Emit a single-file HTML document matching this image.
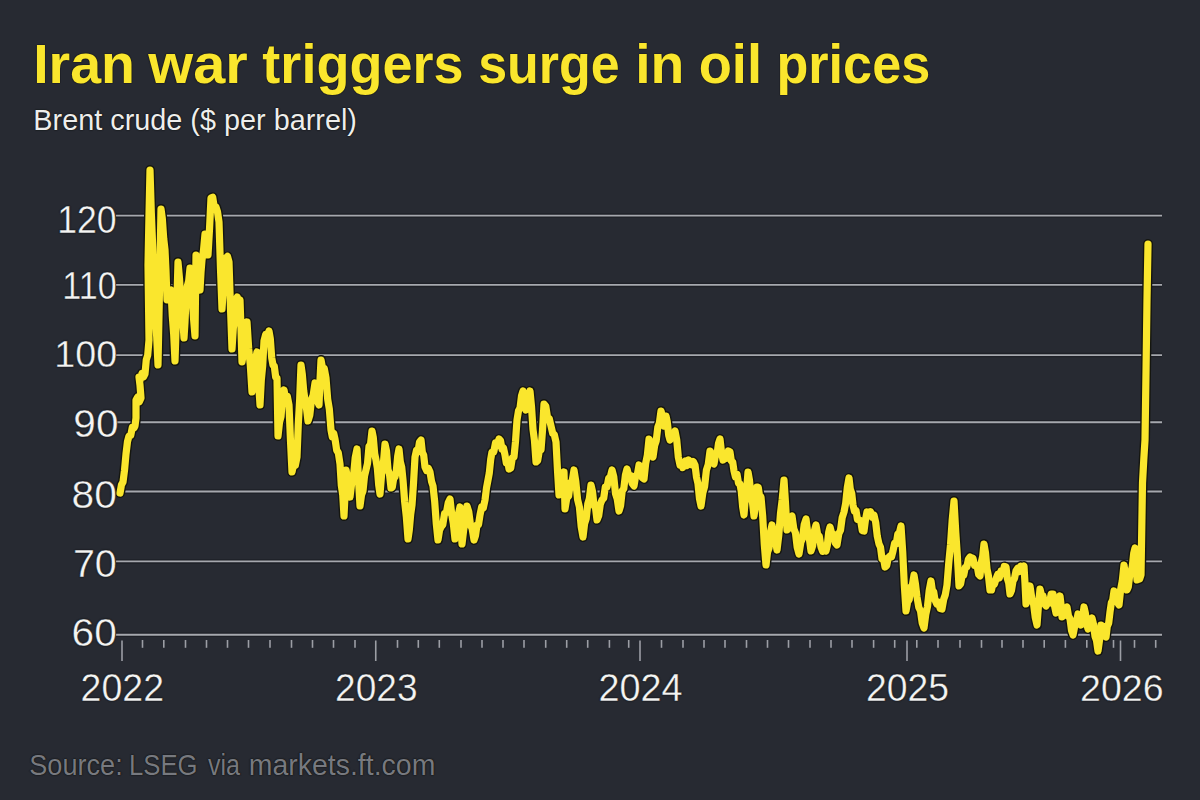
<!DOCTYPE html>
<html><head><meta charset="utf-8"><style>
html,body{margin:0;padding:0;background:#272a32;}
body{width:1200px;height:800px;overflow:hidden;position:relative;font-family:"Liberation Sans",sans-serif;}
.t{position:absolute;white-space:nowrap;line-height:1;}
svg{position:absolute;left:0;top:0;}
</style></head><body>
<svg width="1200" height="800" viewBox="0 0 1200 800">

<line x1="116" y1="215.6" x2="1162" y2="215.6" stroke="#1e2027" stroke-width="4.5"/>
<line x1="116" y1="215.6" x2="1162" y2="215.6" stroke="#a6a8ae" stroke-width="1.9"/>
<line x1="116" y1="284.9" x2="1162" y2="284.9" stroke="#1e2027" stroke-width="4.5"/>
<line x1="116" y1="284.9" x2="1162" y2="284.9" stroke="#a6a8ae" stroke-width="1.9"/>
<line x1="116" y1="355.1" x2="1162" y2="355.1" stroke="#1e2027" stroke-width="4.5"/>
<line x1="116" y1="355.1" x2="1162" y2="355.1" stroke="#a6a8ae" stroke-width="1.9"/>
<line x1="116" y1="422.2" x2="1162" y2="422.2" stroke="#1e2027" stroke-width="4.5"/>
<line x1="116" y1="422.2" x2="1162" y2="422.2" stroke="#a6a8ae" stroke-width="1.9"/>
<line x1="116" y1="491.5" x2="1162" y2="491.5" stroke="#1e2027" stroke-width="4.5"/>
<line x1="116" y1="491.5" x2="1162" y2="491.5" stroke="#a6a8ae" stroke-width="1.9"/>
<line x1="116" y1="561.4" x2="1162" y2="561.4" stroke="#1e2027" stroke-width="4.5"/>
<line x1="116" y1="561.4" x2="1162" y2="561.4" stroke="#a6a8ae" stroke-width="1.9"/>
<line x1="116" y1="634.7" x2="1162" y2="634.7" stroke="#1e2027" stroke-width="4.5"/>
<line x1="116" y1="634.7" x2="1162" y2="634.7" stroke="#a6a8ae" stroke-width="1.9"/>
<line x1="142.5" y1="640" x2="142.5" y2="647.8" stroke="#9c9ea5" stroke-width="1.6"/>
<line x1="163.8" y1="640" x2="163.8" y2="647.8" stroke="#9c9ea5" stroke-width="1.6"/>
<line x1="185.5" y1="640" x2="185.5" y2="647.8" stroke="#9c9ea5" stroke-width="1.6"/>
<line x1="206.5" y1="640" x2="206.5" y2="647.8" stroke="#9c9ea5" stroke-width="1.6"/>
<line x1="227.5" y1="640" x2="227.5" y2="647.8" stroke="#9c9ea5" stroke-width="1.6"/>
<line x1="248.5" y1="640" x2="248.5" y2="647.8" stroke="#9c9ea5" stroke-width="1.6"/>
<line x1="270.0" y1="640" x2="270.0" y2="647.8" stroke="#9c9ea5" stroke-width="1.6"/>
<line x1="291.5" y1="640" x2="291.5" y2="647.8" stroke="#9c9ea5" stroke-width="1.6"/>
<line x1="312.5" y1="640" x2="312.5" y2="647.8" stroke="#9c9ea5" stroke-width="1.6"/>
<line x1="333.5" y1="640" x2="333.5" y2="647.8" stroke="#9c9ea5" stroke-width="1.6"/>
<line x1="355.0" y1="640" x2="355.0" y2="647.8" stroke="#9c9ea5" stroke-width="1.6"/>
<line x1="397.5" y1="640" x2="397.5" y2="647.8" stroke="#9c9ea5" stroke-width="1.6"/>
<line x1="418.3" y1="640" x2="418.3" y2="647.8" stroke="#9c9ea5" stroke-width="1.6"/>
<line x1="439.3" y1="640" x2="439.3" y2="647.8" stroke="#9c9ea5" stroke-width="1.6"/>
<line x1="461.0" y1="640" x2="461.0" y2="647.8" stroke="#9c9ea5" stroke-width="1.6"/>
<line x1="482.0" y1="640" x2="482.0" y2="647.8" stroke="#9c9ea5" stroke-width="1.6"/>
<line x1="503.0" y1="640" x2="503.0" y2="647.8" stroke="#9c9ea5" stroke-width="1.6"/>
<line x1="524.0" y1="640" x2="524.0" y2="647.8" stroke="#9c9ea5" stroke-width="1.6"/>
<line x1="545.7" y1="640" x2="545.7" y2="647.8" stroke="#9c9ea5" stroke-width="1.6"/>
<line x1="566.7" y1="640" x2="566.7" y2="647.8" stroke="#9c9ea5" stroke-width="1.6"/>
<line x1="587.7" y1="640" x2="587.7" y2="647.8" stroke="#9c9ea5" stroke-width="1.6"/>
<line x1="609.4" y1="640" x2="609.4" y2="647.8" stroke="#9c9ea5" stroke-width="1.6"/>
<line x1="628.7" y1="640" x2="628.7" y2="647.8" stroke="#9c9ea5" stroke-width="1.6"/>
<line x1="661.5" y1="640" x2="661.5" y2="647.8" stroke="#9c9ea5" stroke-width="1.6"/>
<line x1="683.0" y1="640" x2="683.0" y2="647.8" stroke="#9c9ea5" stroke-width="1.6"/>
<line x1="704.0" y1="640" x2="704.0" y2="647.8" stroke="#9c9ea5" stroke-width="1.6"/>
<line x1="725.0" y1="640" x2="725.0" y2="647.8" stroke="#9c9ea5" stroke-width="1.6"/>
<line x1="746.5" y1="640" x2="746.5" y2="647.8" stroke="#9c9ea5" stroke-width="1.6"/>
<line x1="767.5" y1="640" x2="767.5" y2="647.8" stroke="#9c9ea5" stroke-width="1.6"/>
<line x1="788.5" y1="640" x2="788.5" y2="647.8" stroke="#9c9ea5" stroke-width="1.6"/>
<line x1="810.0" y1="640" x2="810.0" y2="647.8" stroke="#9c9ea5" stroke-width="1.6"/>
<line x1="831.0" y1="640" x2="831.0" y2="647.8" stroke="#9c9ea5" stroke-width="1.6"/>
<line x1="852.0" y1="640" x2="852.0" y2="647.8" stroke="#9c9ea5" stroke-width="1.6"/>
<line x1="873.6" y1="640" x2="873.6" y2="647.8" stroke="#9c9ea5" stroke-width="1.6"/>
<line x1="894.7" y1="640" x2="894.7" y2="647.8" stroke="#9c9ea5" stroke-width="1.6"/>
<line x1="916.8" y1="640" x2="916.8" y2="647.8" stroke="#9c9ea5" stroke-width="1.6"/>
<line x1="938.0" y1="640" x2="938.0" y2="647.8" stroke="#9c9ea5" stroke-width="1.6"/>
<line x1="960.0" y1="640" x2="960.0" y2="647.8" stroke="#9c9ea5" stroke-width="1.6"/>
<line x1="981.5" y1="640" x2="981.5" y2="647.8" stroke="#9c9ea5" stroke-width="1.6"/>
<line x1="1002.0" y1="640" x2="1002.0" y2="647.8" stroke="#9c9ea5" stroke-width="1.6"/>
<line x1="1023.0" y1="640" x2="1023.0" y2="647.8" stroke="#9c9ea5" stroke-width="1.6"/>
<line x1="1044.2" y1="640" x2="1044.2" y2="647.8" stroke="#9c9ea5" stroke-width="1.6"/>
<line x1="1065.4" y1="640" x2="1065.4" y2="647.8" stroke="#9c9ea5" stroke-width="1.6"/>
<line x1="1086.8" y1="640" x2="1086.8" y2="647.8" stroke="#9c9ea5" stroke-width="1.6"/>
<line x1="1113.5" y1="640" x2="1113.5" y2="647.8" stroke="#9c9ea5" stroke-width="1.6"/>
<line x1="1134.5" y1="640" x2="1134.5" y2="647.8" stroke="#9c9ea5" stroke-width="1.6"/>
<line x1="1155.7" y1="640" x2="1155.7" y2="647.8" stroke="#9c9ea5" stroke-width="1.6"/>
<line x1="122" y1="640.5" x2="122" y2="661" stroke="#9c9ea5" stroke-width="1.6"/>
<line x1="375.75" y1="640.5" x2="375.75" y2="661" stroke="#9c9ea5" stroke-width="1.6"/>
<line x1="640" y1="640.5" x2="640" y2="661" stroke="#9c9ea5" stroke-width="1.6"/>
<line x1="907" y1="640.5" x2="907" y2="661" stroke="#9c9ea5" stroke-width="1.6"/>
<line x1="1120.5" y1="640.5" x2="1120.5" y2="661" stroke="#9c9ea5" stroke-width="1.6"/>
<path d="M120.0 493.0 L121.5 484.7 L123.0 482.0 L124.5 470.4 L126.0 454.0 L127.5 441.5 L129.0 436.0 L130.7 435.6 L132.3 427.4 L134.0 428.0 L135.0 425.9 L136.0 418.0 L136.0 400.0 L137.7 397.1 L139.3 401.8 L141.0 398.0 L140.0 385.3 L139.0 377.0 L140.5 379.3 L142.0 373.3 L143.5 377.0 L145.0 374.0 L146.3 359.7 L147.7 355.2 L149.0 340.0 L148.0 265.0 L149.0 215.1 L150.0 170.0 L151.3 212.6 L152.7 246.6 L154.0 290.0 L155.3 319.1 L156.7 336.7 L158.0 365.0 L159.5 289.9 L161.0 209.0 L162.3 218.5 L163.7 238.5 L165.0 250.0 L166.0 271.1 L167.0 300.0 L168.3 299.4 L169.7 290.9 L171.0 290.0 L172.3 316.0 L173.7 334.6 L175.0 361.0 L176.5 315.3 L178.0 262.0 L179.5 278.5 L181.0 303.3 L182.5 315.6 L184.0 338.0 L185.0 321.9 L186.0 300.0 L187.3 286.1 L188.7 280.9 L190.0 268.0 L191.0 279.3 L192.0 295.0 L193.5 318.0 L195.0 336.0 L196.0 255.0 L197.3 263.1 L198.7 281.3 L200.0 290.0 L201.0 272.2 L202.0 260.0 L203.5 250.3 L205.0 234.0 L206.5 241.4 L208.0 255.0 L209.5 229.2 L211.0 198.0 L212.7 197.2 L214.3 207.6 L216.0 207.0 L217.5 211.9 L219.0 222.0 L220.5 268.8 L222.0 309.0 L223.3 288.8 L224.7 278.9 L226.0 258.0 L227.5 256.4 L229.0 262.0 L230.5 308.2 L232.0 349.0 L233.3 328.5 L234.7 318.7 L236.0 300.0 L237.3 297.0 L238.7 303.7 L240.0 300.0 L241.0 328.6 L242.0 362.0 L243.7 351.8 L245.3 333.2 L247.0 322.0 L248.7 348.8 L250.3 365.0 L252.0 392.0 L253.7 382.0 L255.3 361.4 L257.0 352.0 L258.5 381.3 L260.0 405.0 L261.3 380.1 L262.7 365.7 L264.0 341.0 L265.7 334.3 L267.3 337.4 L269.0 331.0 L270.3 338.5 L271.7 357.8 L273.0 365.0 L274.3 366.2 L275.7 377.2 L277.0 378.0 L278.0 436.0 L279.5 422.3 L281.0 416.6 L282.5 398.0 L284.0 390.0 L285.7 399.2 L287.3 396.2 L289.0 405.0 L290.5 441.2 L292.0 472.0 L293.7 464.1 L295.3 465.5 L297.0 457.0 L298.3 424.2 L299.7 398.7 L301.0 365.0 L302.3 374.2 L303.7 390.7 L305.0 400.0 L306.5 408.3 L308.0 421.0 L309.8 415.2 L311.5 399.6 L313.2 395.1 L315.0 383.0 L316.3 387.4 L317.7 401.6 L319.0 405.0 L320.0 380.2 L321.0 360.0 L322.7 369.0 L324.3 368.7 L326.0 378.0 L327.7 399.3 L329.3 408.8 L331.0 430.0 L332.3 436.9 L333.7 433.3 L335.0 439.0 L336.7 450.3 L338.3 452.8 L340.0 464.0 L341.3 485.3 L342.7 494.6 L344.0 516.0 L345.0 495.4 L346.0 470.0 L347.3 476.5 L348.7 490.6 L350.0 497.0 L351.8 482.4 L353.5 476.1 L355.2 457.7 L357.0 449.0 L358.5 480.2 L360.0 506.0 L361.5 494.9 L363.0 491.0 L364.5 476.1 L366.0 470.0 L367.5 463.5 L369.0 446.4 L370.5 444.3 L372.0 431.0 L373.3 437.5 L374.7 453.7 L376.0 460.0 L377.3 467.8 L378.7 484.9 L380.0 494.0 L381.7 473.3 L383.3 464.4 L385.0 444.0 L386.5 451.1 L388.0 469.8 L389.5 474.1 L391.0 488.0 L392.3 487.3 L393.7 478.3 L395.0 477.0 L396.3 471.1 L397.7 456.1 L399.0 449.0 L400.3 461.6 L401.7 467.1 L403.0 480.0 L404.7 502.1 L406.3 516.5 L408.0 539.0 L409.3 529.9 L410.7 514.2 L412.0 505.0 L413.5 483.4 L415.0 457.0 L416.5 450.4 L418.0 451.4 L419.5 442.1 L421.0 440.0 L422.3 452.2 L423.7 455.3 L425.0 467.0 L426.7 470.6 L428.3 468.2 L430.0 472.0 L431.5 481.3 L433.0 486.0 L434.7 501.7 L436.3 523.9 L438.0 540.0 L439.5 530.4 L441.0 527.0 L442.8 524.8 L444.6 513.3 L446.4 512.7 L448.2 502.8 L450.0 499.0 L451.7 514.2 L453.3 523.4 L455.0 539.0 L456.7 530.5 L458.3 514.6 L460.0 507.0 L461.0 527.5 L462.0 544.0 L463.7 529.6 L465.3 522.0 L467.0 506.0 L468.8 511.9 L470.5 524.9 L472.2 528.9 L474.0 540.0 L475.5 535.5 L477.0 524.9 L478.5 524.6 L480.0 515.0 L481.7 506.8 L483.3 507.9 L485.0 500.0 L486.5 487.9 L488.0 480.0 L489.3 473.0 L490.7 459.3 L492.0 452.0 L493.8 451.8 L495.5 442.9 L497.2 445.3 L499.0 439.0 L500.5 440.7 L502.0 449.1 L503.5 447.9 L505.0 455.0 L506.3 463.0 L507.7 461.2 L509.0 469.0 L510.7 468.1 L512.3 457.9 L514.0 457.0 L515.5 441.5 L517.0 420.0 L518.5 410.7 L520.0 408.1 L521.5 395.9 L523.0 391.0 L524.5 402.2 L526.0 410.0 L527.3 401.9 L528.7 399.5 L530.0 391.0 L531.5 406.6 L533.0 429.4 L534.5 440.9 L536.0 462.0 L537.7 460.5 L539.3 450.7 L541.0 450.0 L542.5 430.4 L544.0 404.0 L545.8 406.2 L547.5 417.3 L549.2 418.4 L551.0 426.0 L552.7 433.4 L554.3 434.6 L556.0 442.0 L557.5 470.5 L559.0 495.0 L560.7 484.6 L562.3 482.9 L564.0 472.0 L565.0 509.0 L566.8 498.1 L568.6 495.9 L570.4 482.8 L572.2 480.9 L574.0 470.0 L575.8 481.6 L577.6 499.6 L579.4 507.0 L581.2 526.6 L583.0 537.0 L584.6 523.6 L586.2 518.7 L587.8 503.8 L589.4 498.4 L591.0 485.0 L592.5 491.5 L594.0 505.6 L595.5 507.9 L597.0 520.0 L598.7 515.7 L600.3 504.3 L602.0 500.0 L603.7 498.3 L605.3 487.1 L607.0 487.0 L608.7 478.1 L610.3 477.0 L612.0 470.0 L613.8 477.0 L615.5 493.6 L617.2 498.8 L619.0 511.0 L620.6 505.7 L622.2 490.8 L623.8 488.6 L625.4 475.1 L627.0 469.0 L628.8 475.9 L630.5 475.6 L632.2 483.5 L634.0 486.0 L635.7 475.6 L637.3 474.8 L639.0 465.0 L640.7 467.1 L642.3 477.6 L644.0 479.0 L645.7 463.2 L647.3 455.5 L649.0 439.0 L650.3 441.9 L651.7 453.1 L653.0 457.0 L654.6 445.7 L656.2 440.8 L657.8 427.3 L659.4 422.9 L661.0 411.0 L662.5 416.4 L664.0 426.0 L665.0 423.4 L666.0 416.0 L667.3 422.1 L668.7 435.2 L670.0 440.0 L671.7 434.7 L673.3 436.5 L675.0 431.0 L676.7 439.6 L678.3 456.9 L680.0 465.0 L681.3 462.3 L682.7 467.6 L684.0 464.0 L685.5 460.9 L687.0 465.6 L688.5 459.9 L690.0 462.0 L691.7 464.7 L693.3 461.6 L695.0 465.0 L696.5 477.3 L698.0 483.8 L699.5 498.8 L701.0 506.0 L702.8 493.0 L704.6 486.5 L706.4 470.1 L708.2 464.6 L710.0 451.0 L711.3 453.1 L712.7 462.2 L714.0 464.0 L715.5 455.1 L717.0 454.5 L718.5 443.4 L720.0 439.0 L721.5 452.2 L723.0 460.0 L724.8 455.9 L726.5 458.2 L728.2 451.0 L730.0 452.0 L731.3 460.9 L732.7 462.0 L734.0 471.0 L735.5 477.2 L737.0 474.2 L738.5 483.2 L740.0 484.0 L741.3 491.6 L742.7 507.2 L744.0 515.0 L745.3 498.1 L746.7 489.2 L748.0 472.0 L749.5 480.5 L751.0 496.6 L752.5 502.5 L754.0 516.0 L755.5 504.8 L757.0 487.0 L758.3 487.4 L759.7 496.9 L761.0 497.0 L762.7 516.4 L764.3 544.5 L766.0 565.0 L767.5 552.3 L769.0 548.3 L770.5 531.9 L772.0 525.0 L773.7 535.3 L775.3 539.8 L777.0 550.0 L778.8 535.0 L780.5 513.2 L782.2 499.6 L784.0 480.0 L785.5 503.2 L787.0 530.0 L788.7 528.2 L790.3 517.6 L792.0 516.0 L793.8 528.7 L795.5 533.0 L797.2 547.4 L799.0 554.0 L800.8 542.4 L802.5 538.4 L804.2 524.5 L806.0 519.0 L807.7 533.0 L809.3 538.3 L811.0 551.0 L812.7 545.7 L814.3 531.3 L816.0 525.0 L817.7 534.9 L819.3 536.3 L821.0 547.0 L822.7 551.4 L824.3 547.7 L826.0 551.0 L827.3 545.4 L828.7 532.4 L830.0 527.0 L831.8 533.8 L833.5 534.0 L835.2 542.7 L837.0 545.0 L838.8 533.8 L840.5 530.2 L842.2 517.6 L844.0 512.0 L845.7 503.1 L847.3 487.6 L849.0 478.0 L850.3 489.3 L851.7 493.2 L853.0 505.0 L854.5 511.3 L856.0 510.7 L857.5 519.6 L859.0 520.0 L860.7 520.6 L862.3 530.7 L864.0 531.0 L865.5 519.6 L867.0 512.0 L868.8 514.9 L870.5 511.7 L872.2 517.3 L874.0 515.0 L875.7 522.5 L877.3 536.3 L879.0 544.0 L880.5 547.3 L882.0 558.7 L883.5 558.2 L885.0 567.0 L886.7 565.5 L888.3 557.7 L890.0 556.0 L891.5 556.8 L893.0 551.0 L894.6 543.3 L896.2 543.9 L897.8 534.1 L899.4 532.8 L901.0 526.0 L902.7 551.8 L904.3 584.8 L906.0 611.0 L907.6 602.2 L909.2 599.5 L910.8 586.9 L912.4 584.9 L914.0 575.0 L915.5 584.4 L917.0 597.0 L918.8 607.5 L920.5 610.9 L922.2 623.0 L924.0 628.0 L925.8 614.1 L927.5 606.5 L929.2 590.4 L931.0 581.0 L932.3 590.2 L933.7 591.8 L935.0 600.0 L936.8 603.9 L938.5 602.2 L940.2 608.6 L942.0 609.0 L943.7 599.3 L945.3 594.7 L947.0 585.0 L948.8 562.4 L950.5 544.8 L952.2 520.0 L954.0 501.0 L955.7 531.3 L957.3 555.0 L959.0 586.0 L960.6 583.8 L962.1 575.5 L963.7 575.3 L965.3 567.4 L966.9 566.8 L968.4 559.3 L970.0 557.0 L971.5 560.5 L973.0 558.4 L974.5 565.3 L976.0 565.0 L977.3 566.9 L978.7 574.5 L980.0 576.0 L981.3 562.4 L982.7 556.3 L984.0 544.0 L985.5 552.8 L987.0 569.1 L988.5 576.3 L990.0 590.0 L991.5 590.0 L993.0 582.4 L994.5 584.0 L996.0 579.0 L997.7 574.5 L999.3 578.0 L1001.0 571.0 L1002.7 573.7 L1004.3 566.4 L1006.0 567.0 L1007.3 578.5 L1008.7 582.9 L1010.0 594.0 L1011.5 590.3 L1013.0 580.9 L1014.5 578.4 L1016.0 571.0 L1017.6 568.4 L1019.2 571.6 L1020.8 566.1 L1022.4 568.7 L1024.0 566.0 L1025.0 583.4 L1026.0 604.0 L1027.3 600.8 L1028.7 589.2 L1030.0 586.0 L1031.8 598.3 L1033.5 603.6 L1035.2 617.1 L1037.0 625.0 L1038.5 605.1 L1040.0 589.0 L1041.5 595.4 L1043.0 595.8 L1044.5 603.9 L1046.0 606.0 L1047.8 601.1 L1049.5 602.9 L1051.2 594.0 L1053.0 594.0 L1054.5 605.8 L1056.0 613.0 L1057.3 605.5 L1058.7 604.6 L1060.0 596.0 L1061.0 604.5 L1062.0 617.0 L1063.7 615.7 L1065.3 608.8 L1067.0 607.0 L1068.5 616.1 L1070.0 618.8 L1071.5 630.3 L1073.0 635.0 L1074.7 626.2 L1076.3 623.3 L1078.0 614.0 L1079.5 618.0 L1081.0 625.0 L1082.5 617.9 L1084.0 607.0 L1085.3 612.7 L1086.7 623.8 L1088.0 629.0 L1089.3 623.8 L1090.7 623.2 L1092.0 618.0 L1093.5 624.3 L1095.0 636.3 L1096.5 640.4 L1098.0 651.0 L1099.5 640.3 L1101.0 625.0 L1102.7 626.4 L1104.3 635.5 L1106.0 637.0 L1107.3 626.1 L1108.7 623.2 L1110.0 612.0 L1111.3 602.9 L1112.7 600.0 L1114.0 591.0 L1115.7 592.7 L1117.3 602.1 L1119.0 605.0 L1120.7 589.1 L1122.3 580.8 L1124.0 565.0 L1125.5 575.9 L1127.0 590.0 L1128.3 586.8 L1129.7 575.2 L1131.0 572.0 L1132.3 566.4 L1133.7 553.4 L1135.0 548.0 L1136.0 566.7 L1137.0 580.0 L1138.3 576.6 L1139.7 579.0 L1141.0 575.0 L1142.5 483.0 L1143.8 459.2 L1145.0 440.0 L1146.0 372.8 L1147.0 300.0 L1148.0 244.0" fill="none" stroke="#15160f" stroke-width="10" stroke-linejoin="round" stroke-linecap="round"/>
<path d="M120.0 493.0 L121.5 484.7 L123.0 482.0 L124.5 470.4 L126.0 454.0 L127.5 441.5 L129.0 436.0 L130.7 435.6 L132.3 427.4 L134.0 428.0 L135.0 425.9 L136.0 418.0 L136.0 400.0 L137.7 397.1 L139.3 401.8 L141.0 398.0 L140.0 385.3 L139.0 377.0 L140.5 379.3 L142.0 373.3 L143.5 377.0 L145.0 374.0 L146.3 359.7 L147.7 355.2 L149.0 340.0 L148.0 265.0 L149.0 215.1 L150.0 170.0 L151.3 212.6 L152.7 246.6 L154.0 290.0 L155.3 319.1 L156.7 336.7 L158.0 365.0 L159.5 289.9 L161.0 209.0 L162.3 218.5 L163.7 238.5 L165.0 250.0 L166.0 271.1 L167.0 300.0 L168.3 299.4 L169.7 290.9 L171.0 290.0 L172.3 316.0 L173.7 334.6 L175.0 361.0 L176.5 315.3 L178.0 262.0 L179.5 278.5 L181.0 303.3 L182.5 315.6 L184.0 338.0 L185.0 321.9 L186.0 300.0 L187.3 286.1 L188.7 280.9 L190.0 268.0 L191.0 279.3 L192.0 295.0 L193.5 318.0 L195.0 336.0 L196.0 255.0 L197.3 263.1 L198.7 281.3 L200.0 290.0 L201.0 272.2 L202.0 260.0 L203.5 250.3 L205.0 234.0 L206.5 241.4 L208.0 255.0 L209.5 229.2 L211.0 198.0 L212.7 197.2 L214.3 207.6 L216.0 207.0 L217.5 211.9 L219.0 222.0 L220.5 268.8 L222.0 309.0 L223.3 288.8 L224.7 278.9 L226.0 258.0 L227.5 256.4 L229.0 262.0 L230.5 308.2 L232.0 349.0 L233.3 328.5 L234.7 318.7 L236.0 300.0 L237.3 297.0 L238.7 303.7 L240.0 300.0 L241.0 328.6 L242.0 362.0 L243.7 351.8 L245.3 333.2 L247.0 322.0 L248.7 348.8 L250.3 365.0 L252.0 392.0 L253.7 382.0 L255.3 361.4 L257.0 352.0 L258.5 381.3 L260.0 405.0 L261.3 380.1 L262.7 365.7 L264.0 341.0 L265.7 334.3 L267.3 337.4 L269.0 331.0 L270.3 338.5 L271.7 357.8 L273.0 365.0 L274.3 366.2 L275.7 377.2 L277.0 378.0 L278.0 436.0 L279.5 422.3 L281.0 416.6 L282.5 398.0 L284.0 390.0 L285.7 399.2 L287.3 396.2 L289.0 405.0 L290.5 441.2 L292.0 472.0 L293.7 464.1 L295.3 465.5 L297.0 457.0 L298.3 424.2 L299.7 398.7 L301.0 365.0 L302.3 374.2 L303.7 390.7 L305.0 400.0 L306.5 408.3 L308.0 421.0 L309.8 415.2 L311.5 399.6 L313.2 395.1 L315.0 383.0 L316.3 387.4 L317.7 401.6 L319.0 405.0 L320.0 380.2 L321.0 360.0 L322.7 369.0 L324.3 368.7 L326.0 378.0 L327.7 399.3 L329.3 408.8 L331.0 430.0 L332.3 436.9 L333.7 433.3 L335.0 439.0 L336.7 450.3 L338.3 452.8 L340.0 464.0 L341.3 485.3 L342.7 494.6 L344.0 516.0 L345.0 495.4 L346.0 470.0 L347.3 476.5 L348.7 490.6 L350.0 497.0 L351.8 482.4 L353.5 476.1 L355.2 457.7 L357.0 449.0 L358.5 480.2 L360.0 506.0 L361.5 494.9 L363.0 491.0 L364.5 476.1 L366.0 470.0 L367.5 463.5 L369.0 446.4 L370.5 444.3 L372.0 431.0 L373.3 437.5 L374.7 453.7 L376.0 460.0 L377.3 467.8 L378.7 484.9 L380.0 494.0 L381.7 473.3 L383.3 464.4 L385.0 444.0 L386.5 451.1 L388.0 469.8 L389.5 474.1 L391.0 488.0 L392.3 487.3 L393.7 478.3 L395.0 477.0 L396.3 471.1 L397.7 456.1 L399.0 449.0 L400.3 461.6 L401.7 467.1 L403.0 480.0 L404.7 502.1 L406.3 516.5 L408.0 539.0 L409.3 529.9 L410.7 514.2 L412.0 505.0 L413.5 483.4 L415.0 457.0 L416.5 450.4 L418.0 451.4 L419.5 442.1 L421.0 440.0 L422.3 452.2 L423.7 455.3 L425.0 467.0 L426.7 470.6 L428.3 468.2 L430.0 472.0 L431.5 481.3 L433.0 486.0 L434.7 501.7 L436.3 523.9 L438.0 540.0 L439.5 530.4 L441.0 527.0 L442.8 524.8 L444.6 513.3 L446.4 512.7 L448.2 502.8 L450.0 499.0 L451.7 514.2 L453.3 523.4 L455.0 539.0 L456.7 530.5 L458.3 514.6 L460.0 507.0 L461.0 527.5 L462.0 544.0 L463.7 529.6 L465.3 522.0 L467.0 506.0 L468.8 511.9 L470.5 524.9 L472.2 528.9 L474.0 540.0 L475.5 535.5 L477.0 524.9 L478.5 524.6 L480.0 515.0 L481.7 506.8 L483.3 507.9 L485.0 500.0 L486.5 487.9 L488.0 480.0 L489.3 473.0 L490.7 459.3 L492.0 452.0 L493.8 451.8 L495.5 442.9 L497.2 445.3 L499.0 439.0 L500.5 440.7 L502.0 449.1 L503.5 447.9 L505.0 455.0 L506.3 463.0 L507.7 461.2 L509.0 469.0 L510.7 468.1 L512.3 457.9 L514.0 457.0 L515.5 441.5 L517.0 420.0 L518.5 410.7 L520.0 408.1 L521.5 395.9 L523.0 391.0 L524.5 402.2 L526.0 410.0 L527.3 401.9 L528.7 399.5 L530.0 391.0 L531.5 406.6 L533.0 429.4 L534.5 440.9 L536.0 462.0 L537.7 460.5 L539.3 450.7 L541.0 450.0 L542.5 430.4 L544.0 404.0 L545.8 406.2 L547.5 417.3 L549.2 418.4 L551.0 426.0 L552.7 433.4 L554.3 434.6 L556.0 442.0 L557.5 470.5 L559.0 495.0 L560.7 484.6 L562.3 482.9 L564.0 472.0 L565.0 509.0 L566.8 498.1 L568.6 495.9 L570.4 482.8 L572.2 480.9 L574.0 470.0 L575.8 481.6 L577.6 499.6 L579.4 507.0 L581.2 526.6 L583.0 537.0 L584.6 523.6 L586.2 518.7 L587.8 503.8 L589.4 498.4 L591.0 485.0 L592.5 491.5 L594.0 505.6 L595.5 507.9 L597.0 520.0 L598.7 515.7 L600.3 504.3 L602.0 500.0 L603.7 498.3 L605.3 487.1 L607.0 487.0 L608.7 478.1 L610.3 477.0 L612.0 470.0 L613.8 477.0 L615.5 493.6 L617.2 498.8 L619.0 511.0 L620.6 505.7 L622.2 490.8 L623.8 488.6 L625.4 475.1 L627.0 469.0 L628.8 475.9 L630.5 475.6 L632.2 483.5 L634.0 486.0 L635.7 475.6 L637.3 474.8 L639.0 465.0 L640.7 467.1 L642.3 477.6 L644.0 479.0 L645.7 463.2 L647.3 455.5 L649.0 439.0 L650.3 441.9 L651.7 453.1 L653.0 457.0 L654.6 445.7 L656.2 440.8 L657.8 427.3 L659.4 422.9 L661.0 411.0 L662.5 416.4 L664.0 426.0 L665.0 423.4 L666.0 416.0 L667.3 422.1 L668.7 435.2 L670.0 440.0 L671.7 434.7 L673.3 436.5 L675.0 431.0 L676.7 439.6 L678.3 456.9 L680.0 465.0 L681.3 462.3 L682.7 467.6 L684.0 464.0 L685.5 460.9 L687.0 465.6 L688.5 459.9 L690.0 462.0 L691.7 464.7 L693.3 461.6 L695.0 465.0 L696.5 477.3 L698.0 483.8 L699.5 498.8 L701.0 506.0 L702.8 493.0 L704.6 486.5 L706.4 470.1 L708.2 464.6 L710.0 451.0 L711.3 453.1 L712.7 462.2 L714.0 464.0 L715.5 455.1 L717.0 454.5 L718.5 443.4 L720.0 439.0 L721.5 452.2 L723.0 460.0 L724.8 455.9 L726.5 458.2 L728.2 451.0 L730.0 452.0 L731.3 460.9 L732.7 462.0 L734.0 471.0 L735.5 477.2 L737.0 474.2 L738.5 483.2 L740.0 484.0 L741.3 491.6 L742.7 507.2 L744.0 515.0 L745.3 498.1 L746.7 489.2 L748.0 472.0 L749.5 480.5 L751.0 496.6 L752.5 502.5 L754.0 516.0 L755.5 504.8 L757.0 487.0 L758.3 487.4 L759.7 496.9 L761.0 497.0 L762.7 516.4 L764.3 544.5 L766.0 565.0 L767.5 552.3 L769.0 548.3 L770.5 531.9 L772.0 525.0 L773.7 535.3 L775.3 539.8 L777.0 550.0 L778.8 535.0 L780.5 513.2 L782.2 499.6 L784.0 480.0 L785.5 503.2 L787.0 530.0 L788.7 528.2 L790.3 517.6 L792.0 516.0 L793.8 528.7 L795.5 533.0 L797.2 547.4 L799.0 554.0 L800.8 542.4 L802.5 538.4 L804.2 524.5 L806.0 519.0 L807.7 533.0 L809.3 538.3 L811.0 551.0 L812.7 545.7 L814.3 531.3 L816.0 525.0 L817.7 534.9 L819.3 536.3 L821.0 547.0 L822.7 551.4 L824.3 547.7 L826.0 551.0 L827.3 545.4 L828.7 532.4 L830.0 527.0 L831.8 533.8 L833.5 534.0 L835.2 542.7 L837.0 545.0 L838.8 533.8 L840.5 530.2 L842.2 517.6 L844.0 512.0 L845.7 503.1 L847.3 487.6 L849.0 478.0 L850.3 489.3 L851.7 493.2 L853.0 505.0 L854.5 511.3 L856.0 510.7 L857.5 519.6 L859.0 520.0 L860.7 520.6 L862.3 530.7 L864.0 531.0 L865.5 519.6 L867.0 512.0 L868.8 514.9 L870.5 511.7 L872.2 517.3 L874.0 515.0 L875.7 522.5 L877.3 536.3 L879.0 544.0 L880.5 547.3 L882.0 558.7 L883.5 558.2 L885.0 567.0 L886.7 565.5 L888.3 557.7 L890.0 556.0 L891.5 556.8 L893.0 551.0 L894.6 543.3 L896.2 543.9 L897.8 534.1 L899.4 532.8 L901.0 526.0 L902.7 551.8 L904.3 584.8 L906.0 611.0 L907.6 602.2 L909.2 599.5 L910.8 586.9 L912.4 584.9 L914.0 575.0 L915.5 584.4 L917.0 597.0 L918.8 607.5 L920.5 610.9 L922.2 623.0 L924.0 628.0 L925.8 614.1 L927.5 606.5 L929.2 590.4 L931.0 581.0 L932.3 590.2 L933.7 591.8 L935.0 600.0 L936.8 603.9 L938.5 602.2 L940.2 608.6 L942.0 609.0 L943.7 599.3 L945.3 594.7 L947.0 585.0 L948.8 562.4 L950.5 544.8 L952.2 520.0 L954.0 501.0 L955.7 531.3 L957.3 555.0 L959.0 586.0 L960.6 583.8 L962.1 575.5 L963.7 575.3 L965.3 567.4 L966.9 566.8 L968.4 559.3 L970.0 557.0 L971.5 560.5 L973.0 558.4 L974.5 565.3 L976.0 565.0 L977.3 566.9 L978.7 574.5 L980.0 576.0 L981.3 562.4 L982.7 556.3 L984.0 544.0 L985.5 552.8 L987.0 569.1 L988.5 576.3 L990.0 590.0 L991.5 590.0 L993.0 582.4 L994.5 584.0 L996.0 579.0 L997.7 574.5 L999.3 578.0 L1001.0 571.0 L1002.7 573.7 L1004.3 566.4 L1006.0 567.0 L1007.3 578.5 L1008.7 582.9 L1010.0 594.0 L1011.5 590.3 L1013.0 580.9 L1014.5 578.4 L1016.0 571.0 L1017.6 568.4 L1019.2 571.6 L1020.8 566.1 L1022.4 568.7 L1024.0 566.0 L1025.0 583.4 L1026.0 604.0 L1027.3 600.8 L1028.7 589.2 L1030.0 586.0 L1031.8 598.3 L1033.5 603.6 L1035.2 617.1 L1037.0 625.0 L1038.5 605.1 L1040.0 589.0 L1041.5 595.4 L1043.0 595.8 L1044.5 603.9 L1046.0 606.0 L1047.8 601.1 L1049.5 602.9 L1051.2 594.0 L1053.0 594.0 L1054.5 605.8 L1056.0 613.0 L1057.3 605.5 L1058.7 604.6 L1060.0 596.0 L1061.0 604.5 L1062.0 617.0 L1063.7 615.7 L1065.3 608.8 L1067.0 607.0 L1068.5 616.1 L1070.0 618.8 L1071.5 630.3 L1073.0 635.0 L1074.7 626.2 L1076.3 623.3 L1078.0 614.0 L1079.5 618.0 L1081.0 625.0 L1082.5 617.9 L1084.0 607.0 L1085.3 612.7 L1086.7 623.8 L1088.0 629.0 L1089.3 623.8 L1090.7 623.2 L1092.0 618.0 L1093.5 624.3 L1095.0 636.3 L1096.5 640.4 L1098.0 651.0 L1099.5 640.3 L1101.0 625.0 L1102.7 626.4 L1104.3 635.5 L1106.0 637.0 L1107.3 626.1 L1108.7 623.2 L1110.0 612.0 L1111.3 602.9 L1112.7 600.0 L1114.0 591.0 L1115.7 592.7 L1117.3 602.1 L1119.0 605.0 L1120.7 589.1 L1122.3 580.8 L1124.0 565.0 L1125.5 575.9 L1127.0 590.0 L1128.3 586.8 L1129.7 575.2 L1131.0 572.0 L1132.3 566.4 L1133.7 553.4 L1135.0 548.0 L1136.0 566.7 L1137.0 580.0 L1138.3 576.6 L1139.7 579.0 L1141.0 575.0 L1142.5 483.0 L1143.8 459.2 L1145.0 440.0 L1146.0 372.8 L1147.0 300.0 L1148.0 244.0" fill="none" stroke="#fae62d" stroke-width="7.2" stroke-linejoin="round" stroke-linecap="round"/>
</svg>
<div class="t" style="left:0;top:0;transform-origin:0 0;transform:matrix(0.9566,0,0,0.9465,33.17,36.4);font-size:58px;font-weight:bold;color:#fae62d;text-shadow:0 0 1.2px #0c0d0a,0 0 1.2px #0c0d0a;">Iran</div>
<div class="t" style="left:0;top:0;transform-origin:0 0;transform:matrix(0.9939,0,0,0.9465,148.3,36.4);font-size:58px;font-weight:bold;color:#fae62d;text-shadow:0 0 1.2px #0c0d0a,0 0 1.2px #0c0d0a;">war</div>
<div class="t" style="left:0;top:0;transform-origin:0 0;transform:matrix(0.9315,0,0,0.9465,262.37,36.4);font-size:58px;font-weight:bold;color:#fae62d;text-shadow:0 0 1.2px #0c0d0a,0 0 1.2px #0c0d0a;">triggers</div>
<div class="t" style="left:0;top:0;transform-origin:0 0;transform:matrix(0.8961,0,0,0.9465,478.21,36.4);font-size:58px;font-weight:bold;color:#fae62d;text-shadow:0 0 1.2px #0c0d0a,0 0 1.2px #0c0d0a;">surge</div>
<div class="t" style="left:0;top:0;transform-origin:0 0;transform:matrix(0.9545,0,0,0.9465,635.18,36.4);font-size:58px;font-weight:bold;color:#fae62d;text-shadow:0 0 1.2px #0c0d0a,0 0 1.2px #0c0d0a;">in</div>
<div class="t" style="left:0;top:0;transform-origin:0 0;transform:matrix(0.9355,0,0,0.9465,698.73,36.4);font-size:58px;font-weight:bold;color:#fae62d;text-shadow:0 0 1.2px #0c0d0a,0 0 1.2px #0c0d0a;">oil</div>
<div class="t" style="left:0;top:0;transform-origin:0 0;transform:matrix(0.9,0,0,0.9465,776.4,36.4);font-size:58px;font-weight:bold;color:#fae62d;text-shadow:0 0 1.2px #0c0d0a,0 0 1.2px #0c0d0a;">prices</div>
<div class="t" style="left:0;top:0;transform-origin:0 0;transform:matrix(0.9677,0,0,1.085,29.28,749.64);font-size:28px;font-weight:normal;color:#77797f;text-shadow:0 0 1.2px #0c0d0a,0 0 1.2px #0c0d0a;">Source:</div>
<div class="t" style="left:0;top:0;transform-origin:0 0;transform:matrix(0.919,0,0,1.085,128.91,749.64);font-size:28px;font-weight:normal;color:#77797f;text-shadow:0 0 1.2px #0c0d0a,0 0 1.2px #0c0d0a;">LSEG</div>
<div class="t" style="left:0;top:0;transform-origin:0 0;transform:matrix(0.8958,0,0,1.085,208.0,749.64);font-size:28px;font-weight:normal;color:#77797f;text-shadow:0 0 1.2px #0c0d0a,0 0 1.2px #0c0d0a;">via</div>
<div class="t" style="left:0;top:0;transform-origin:0 0;transform:matrix(1.0167,0,0,1.085,248.72,749.64);font-size:28px;font-weight:normal;color:#77797f;text-shadow:0 0 1.2px #0c0d0a,0 0 1.2px #0c0d0a;">markets.ft.com</div>
<div class="t" style="left:0;top:0;transform-origin:0 0;transform:matrix(1.0675,0,0,1.0962,33.36,106.06);font-size:27px;font-weight:normal;color:#eeeeec;text-shadow:0 0 1.2px #0c0d0a,0 0 1.2px #0c0d0a;">Brent crude ($ per barrel)</div>
<div class="t" style="left:0;top:0;transform-origin:0 0;transform:matrix(0.9373,0,0,1.0074,57.19,200.56);font-size:38px;font-weight:normal;color:#f4f4f2;text-shadow:0 0 1.2px #0c0d0a,0 0 1.2px #0c0d0a;-webkit-text-stroke:0.35px #272a32;">120</div>
<div class="t" style="left:0;top:0;transform-origin:0 0;transform:matrix(0.8982,0,0,1.0148,62.31,266.53);font-size:38px;font-weight:normal;color:#f4f4f2;text-shadow:0 0 1.2px #0c0d0a,0 0 1.2px #0c0d0a;-webkit-text-stroke:0.35px #272a32;">110</div>
<div class="t" style="left:0;top:0;transform-origin:0 0;transform:matrix(0.9915,0,0,0.9833,54.28,335.33);font-size:38px;font-weight:normal;color:#f4f4f2;text-shadow:0 0 1.2px #0c0d0a,0 0 1.2px #0c0d0a;-webkit-text-stroke:0.35px #272a32;">100</div>
<div class="t" style="left:0;top:0;transform-origin:0 0;transform:matrix(1.0667,0,0,1.0185,73.37,404.21);font-size:38px;font-weight:normal;color:#f4f4f2;text-shadow:0 0 1.2px #0c0d0a,0 0 1.2px #0c0d0a;-webkit-text-stroke:0.35px #272a32;">90</div>
<div class="t" style="left:0;top:0;transform-origin:0 0;transform:matrix(1.0705,0,0,1.0185,71.61,474.91);font-size:38px;font-weight:normal;color:#f4f4f2;text-shadow:0 0 1.2px #0c0d0a,0 0 1.2px #0c0d0a;-webkit-text-stroke:0.35px #272a32;">80</div>
<div class="t" style="left:0;top:0;transform-origin:0 0;transform:matrix(1.0385,0,0,1.0,72.92,545.0);font-size:38px;font-weight:normal;color:#f4f4f2;text-shadow:0 0 1.2px #0c0d0a,0 0 1.2px #0c0d0a;-webkit-text-stroke:0.35px #272a32;">70</div>
<div class="t" style="left:0;top:0;transform-origin:0 0;transform:matrix(1.0705,0,0,1.0185,71.61,613.66);font-size:38px;font-weight:normal;color:#f4f4f2;text-shadow:0 0 1.2px #0c0d0a,0 0 1.2px #0c0d0a;-webkit-text-stroke:0.35px #272a32;">60</div>
<div class="t" style="left:0;top:0;transform-origin:0 0;transform:matrix(0.9877,0,0,1.0,80.52,669.0);font-size:38px;font-weight:normal;color:#f4f4f2;text-shadow:0 0 1.2px #0c0d0a,0 0 1.2px #0c0d0a;-webkit-text-stroke:0.35px #272a32;">2022</div>
<div class="t" style="left:0;top:0;transform-origin:0 0;transform:matrix(0.9753,0,0,1.0,335.05,669.0);font-size:38px;font-weight:normal;color:#f4f4f2;text-shadow:0 0 1.2px #0c0d0a,0 0 1.2px #0c0d0a;-webkit-text-stroke:0.35px #272a32;">2023</div>
<div class="t" style="left:0;top:0;transform-origin:0 0;transform:matrix(0.9963,0,0,1.0019,598.41,669.19);font-size:38px;font-weight:normal;color:#f4f4f2;text-shadow:0 0 1.2px #0c0d0a,0 0 1.2px #0c0d0a;-webkit-text-stroke:0.35px #272a32;">2024</div>
<div class="t" style="left:0;top:0;transform-origin:0 0;transform:matrix(0.9827,0,0,1.0,865.93,669.2);font-size:38px;font-weight:normal;color:#f4f4f2;text-shadow:0 0 1.2px #0c0d0a,0 0 1.2px #0c0d0a;-webkit-text-stroke:0.35px #272a32;">2025</div>
<div class="t" style="left:0;top:0;transform-origin:0 0;transform:matrix(0.9877,0,0,0.9926,1080.12,669.24);font-size:38px;font-weight:normal;color:#f4f4f2;text-shadow:0 0 1.2px #0c0d0a,0 0 1.2px #0c0d0a;-webkit-text-stroke:0.35px #272a32;">2026</div>
</body></html>
